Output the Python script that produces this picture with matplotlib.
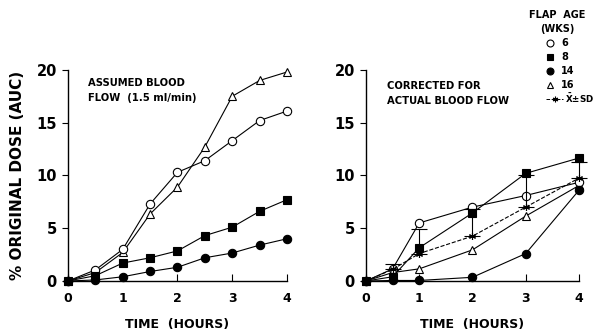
import matplotlib.pyplot as plt

# left panel: assumed blood flow (1.5 ml/min)
hours_a = [0, 0.5, 1, 1.5, 2, 2.5, 3, 3.5, 4]
wk6_a = [0, 1.05, 3.0, 7.3, 10.3, 11.4, 13.3, 15.2, 16.1]
wk8_a = [0, 0.5, 1.7, 2.2, 2.85, 4.3, 5.1, 6.6, 7.7]
wk14_a = [0, 0.1, 0.4, 0.9, 1.3, 2.2, 2.65, 3.4, 4.0]
wk16_a = [0, 0.8, 2.7, 6.35, 8.9, 12.7, 17.5, 19.0, 19.8]

# right panel: corrected for actual blood flow
hours_c = [0, 0.5, 1, 2, 3, 4]
wk6_c = [0, 1.15, 5.5, 7.0, 8.1, 9.35]
wk8_c = [0, 0.4, 3.15, 6.45, 10.2, 11.65]
wk14_c = [0, 0.05, 0.05, 0.35, 2.6, 8.6]
wk16_c = [0, 0.8, 1.15, 2.95, 6.15, 9.05]
mean_c = [0, 1.1, 2.6, 4.25, 7.0, 9.75]
sd_c = [0, 0.5, 2.35, 2.55, 3.0, 1.5]

plt.rcParams['font.family'] = 'DejaVu Sans'
plt.rcParams['font.weight'] = 'bold'

fig = plt.figure(figsize=(5.99, 3.34), dpi=100)
ax1 = fig.add_axes([0.1135, 0.1587, 0.3656, 0.632])
ax2 = fig.add_axes([0.611, 0.1587, 0.3556, 0.632])

ms = 6
style = dict(color='black', lw=0.8, clip_on=False, zorder=3)


def series(ax, x, y, marker, filled):
    ax.plot(x, y, marker=marker, ms=ms, mec='black', mew=0.8,
            mfc='black' if filled else 'white', **style)


series(ax1, hours_a, wk16_a, '^', False)
series(ax1, hours_a, wk6_a, 'o', False)
series(ax1, hours_a, wk8_a, 's', True)
series(ax1, hours_a, wk14_a, 'o', True)

series(ax2, hours_c, wk16_c, '^', False)
series(ax2, hours_c, wk6_c, 'o', False)
series(ax2, hours_c, wk8_c, 's', True)
series(ax2, hours_c, wk14_c, 'o', True)
ax2.plot(hours_c, mean_c, ls='--', lw=0.8, color='black', marker=(6, 2, 0),
         ms=5, mew=0.8, clip_on=False, zorder=4)
ax2.errorbar(hours_c[1:], mean_c[1:], yerr=[[0] * 5, sd_c[1:]], fmt='none',
             ecolor='black', elinewidth=0.8, capsize=6, capthick=0.8,
             clip_on=False, zorder=4)

for ax in (ax1, ax2):
    ax.set_xlim(0, 4)
    ax.set_ylim(0, 20)
    ax.spines['top'].set_visible(False)
    ax.spines['right'].set_visible(False)
    ax.spines['left'].set_linewidth(1.0)
    ax.spines['bottom'].set_linewidth(1.0)
    ax.set_xticks([0, 1, 2, 3, 4])
    ax.set_yticks([0, 5, 10, 15, 20])
    ax.tick_params(axis='x', direction='in', length=5, width=0.8, labelsize=9, pad=8)
    ax.tick_params(axis='y', direction='out', length=4, width=0.8, labelsize=10.5, pad=4)
    ax.set_xlabel('TIME  (HOURS)', fontsize=9, fontweight='bold', labelpad=9)

ax1.set_ylabel('% ORIGINAL DOSE (AUC)', fontsize=11, fontweight='bold', labelpad=8)

fig.text(0.147, 0.742, 'ASSUMED BLOOD', fontsize=7.2, fontweight='bold')
fig.text(0.147, 0.697, 'FLOW  (1.5 ml/min)', fontsize=7.2, fontweight='bold')
fig.text(0.646, 0.733, 'CORRECTED FOR', fontsize=7.2, fontweight='bold')
fig.text(0.646, 0.690, 'ACTUAL BLOOD FLOW', fontsize=7.2, fontweight='bold')

# legend drawn as a text block
fig.text(0.931, 0.955, 'FLAP  AGE', fontsize=7, fontweight='bold', ha='center', va='center')
fig.text(0.931, 0.913, '(WKS)', fontsize=7, fontweight='bold', ha='center', va='center')
leg_items = [('o', 'white', '6'), ('s', 'black', '8'), ('o', 'black', '14'), ('^', 'white', '16')]
leg_y = [0.871, 0.828, 0.787, 0.746, 0.704]
for (m, fc, lab), yy in zip(leg_items, leg_y):
    fig.lines.append(plt.Line2D([0.918], [yy], marker=m, ms=5, mfc=fc, mec='black',
                                mew=0.8, transform=fig.transFigure))
    fig.text(0.937, yy, lab, fontsize=7, fontweight='bold', va='center')
yy = leg_y[4]
fig.lines.append(plt.Line2D([0.912, 0.940], [yy, yy], ls='--', lw=0.7, color='black',
                            transform=fig.transFigure))
fig.lines.append(plt.Line2D([0.926], [yy], marker=(6, 2, 0), ms=4, color='black',
                            mew=0.8, transform=fig.transFigure))
fig.text(0.943, yy, r'$\mathbf{\bar{X}}$±SD', fontsize=6.3, fontweight='bold', va='center')

fig.savefig('out.png', dpi=100)
